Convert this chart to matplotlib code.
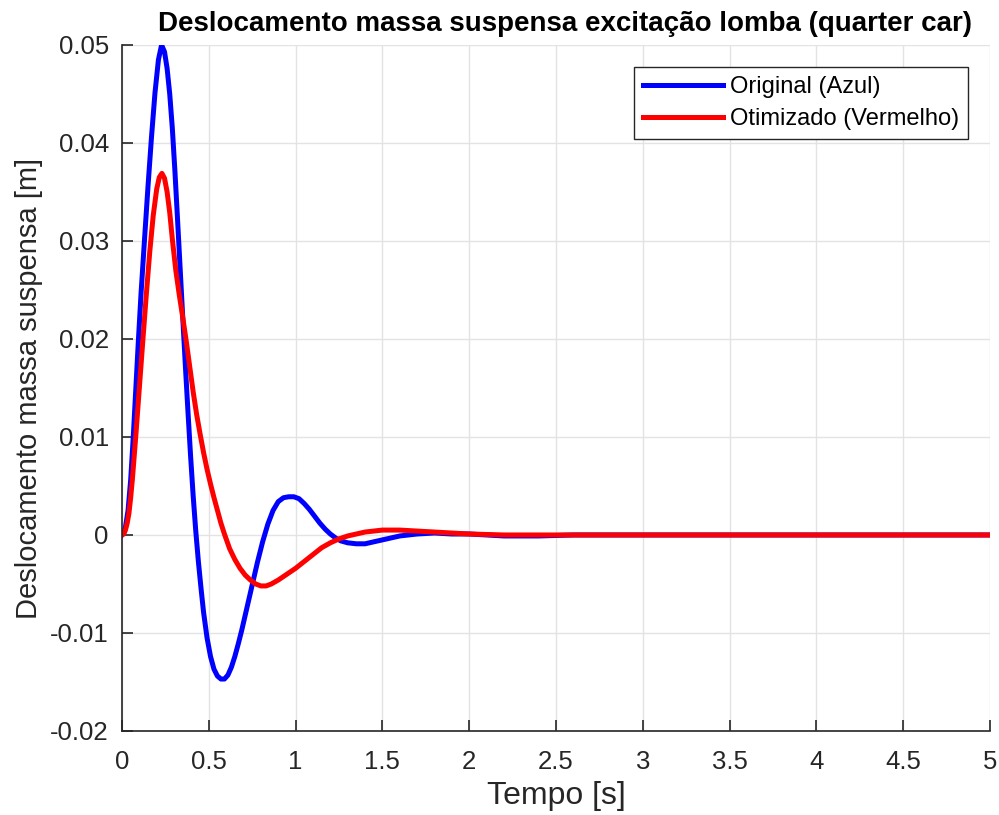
import matplotlib
matplotlib.use('Agg')
import matplotlib.pyplot as plt
from matplotlib.ticker import FuncFormatter

plt.rcParams['font.family'] = ['Liberation Sans', 'DejaVu Sans']
plt.rcParams['axes.unicode_minus'] = False

# Sprung mass displacement, original suspension
t_orig = [0.0, 0.01, 0.02, 0.035, 0.05, 0.065, 0.08, 0.095, 0.11, 0.13, 0.15, 0.17,
          0.19, 0.21, 0.228, 0.245, 0.26, 0.275, 0.29, 0.305, 0.32, 0.335, 0.35,
          0.365, 0.38, 0.395, 0.41, 0.425, 0.44, 0.455, 0.47, 0.49, 0.51, 0.53,
          0.55, 0.57, 0.59, 0.61, 0.63, 0.65, 0.67, 0.69, 0.72, 0.75, 0.78, 0.81,
          0.84, 0.87, 0.90, 0.93, 0.96, 0.99, 1.02, 1.05, 1.08, 1.11, 1.14, 1.17,
          1.20, 1.23, 1.26, 1.30, 1.35, 1.40, 1.45, 1.50, 1.55, 1.60, 1.70, 1.80,
          1.90, 2.0, 2.1, 2.2, 2.4, 2.6, 3.0, 4.0, 5.0]
z_orig = [0.0, 0.0002, 0.0008, 0.0025, 0.0056, 0.0100, 0.0150, 0.0200, 0.0247,
          0.0302, 0.0356, 0.0406, 0.0451, 0.0485, 0.0500, 0.0493, 0.0476, 0.0450,
          0.0415, 0.0371, 0.0322, 0.0272, 0.0222, 0.0173, 0.0126, 0.0081, 0.0040,
          0.0004, -0.0027, -0.0054, -0.0079, -0.0105, -0.0124, -0.0137, -0.0144,
          -0.0147, -0.0147, -0.0143, -0.0135, -0.0124, -0.0111, -0.0097, -0.0074,
          -0.0051, -0.0028, -0.0007, 0.0011, 0.0025, 0.0034, 0.0038, 0.0039,
          0.0039, 0.0037, 0.0032, 0.0026, 0.0019, 0.0012, 0.0006, 0.0001, -0.0003,
          -0.0006, -0.0008, -0.0009, -0.0009, -0.0007, -0.0005, -0.0003, -0.0001,
          0.0001, 0.0002, 0.0001, 0.0001, 0.0, -0.0001, -0.0001, 0.0, 0.0, 0.0, 0.0]

# Sprung mass displacement, optimised suspension
t_opt = [0.0, 0.01, 0.02, 0.03, 0.04, 0.05, 0.06, 0.08, 0.10, 0.12, 0.14, 0.16,
         0.18, 0.20, 0.215, 0.23, 0.245, 0.26, 0.275, 0.29, 0.31, 0.33, 0.35,
         0.37, 0.39, 0.41, 0.43, 0.45, 0.47, 0.49, 0.51, 0.53, 0.55, 0.57, 0.59,
         0.62, 0.65, 0.68, 0.71, 0.74, 0.77, 0.80, 0.83, 0.86, 0.90, 0.95, 1.00,
         1.05, 1.10, 1.15, 1.20, 1.25, 1.30, 1.35, 1.40, 1.45, 1.50, 1.55, 1.60,
         1.70, 1.80, 1.90, 2.0, 2.2, 3.0, 4.0, 5.0]
z_opt = [0.0, 0.0001, 0.0005, 0.0012, 0.0022, 0.0038, 0.0057, 0.0102, 0.0150,
         0.0198, 0.0245, 0.0289, 0.0326, 0.0353, 0.0365, 0.0369, 0.0364, 0.0350,
         0.0329, 0.0302, 0.0270, 0.0245, 0.0222, 0.0198, 0.0172, 0.0146, 0.0123,
         0.0103, 0.0084, 0.0067, 0.0052, 0.0038, 0.0025, 0.0012, 0.0001, -0.0014,
         -0.0025, -0.0034, -0.0041, -0.0046, -0.0050, -0.0052, -0.0052, -0.0050,
         -0.0046, -0.0040, -0.0034, -0.0027, -0.0020, -0.0013, -0.0008, -0.0004,
         -0.0001, 0.0001, 0.0003, 0.0004, 0.0005, 0.0005, 0.0005, 0.0004, 0.0003,
         0.0002, 0.0001, 0.0, 0.0, 0.0, 0.0]

x_ticks = [0, 0.5, 1, 1.5, 2, 2.5, 3, 3.5, 4, 4.5, 5]
y_ticks = [-0.02, -0.01, 0, 0.01, 0.02, 0.03, 0.04, 0.05]

fig = plt.figure(figsize=(9.99, 8.15), dpi=100)
ax = fig.add_axes([0.1221, 0.1031, 0.8690, 0.8417])

ax.plot(t_orig, z_orig, color='#0000ff', lw=3.6, label='Original (Azul)',
        solid_joinstyle='round')
ax.plot(t_opt, z_opt, color='#ff0000', lw=3.6, label='Otimizado (Vermelho)',
        solid_joinstyle='round')

ax.set_xlim(0, 5)
ax.set_ylim(-0.02, 0.05)
ax.set_xticks(x_ticks)
ax.set_yticks(y_ticks)
fmt = FuncFormatter(lambda v, p: '{:g}'.format(round(v, 4)))
ax.xaxis.set_major_formatter(fmt)
ax.yaxis.set_major_formatter(fmt)

ax.grid(True, color='#e3e3e3', lw=1.0)
ax.set_axisbelow(True)
for side in ['top', 'right']:
    ax.spines[side].set_visible(False)
for side in ['left', 'bottom']:
    ax.spines[side].set_color('#262626')
    ax.spines[side].set_linewidth(1.2)
ax.tick_params(direction='in', length=8, width=1.2, colors='#262626',
               labelsize=18.5)
ax.tick_params(axis='y', pad=9.5)
ax.tick_params(axis='x', pad=14)

ax.set_xlabel('Tempo [s]', fontsize=23, color='#262626', labelpad=5)
ax.set_ylabel('Deslocamento massa suspensa [m]', fontsize=21, color='#262626',
              labelpad=5)
ax.set_title('Deslocamento massa suspensa excitação lomba (quarter car)',
             fontsize=20, fontweight='bold', pad=10, x=0.51)

leg = ax.legend(loc='upper right', bbox_to_anchor=(0.975, 0.968), fontsize=17,
                fancybox=False, framealpha=1, edgecolor='#262626',
                handlelength=3.4, handletextpad=0.3, borderpad=0.38,
                labelspacing=0.42, borderaxespad=0)
leg.get_frame().set_linewidth(1.0)

plt.savefig('out.png', dpi=100)
